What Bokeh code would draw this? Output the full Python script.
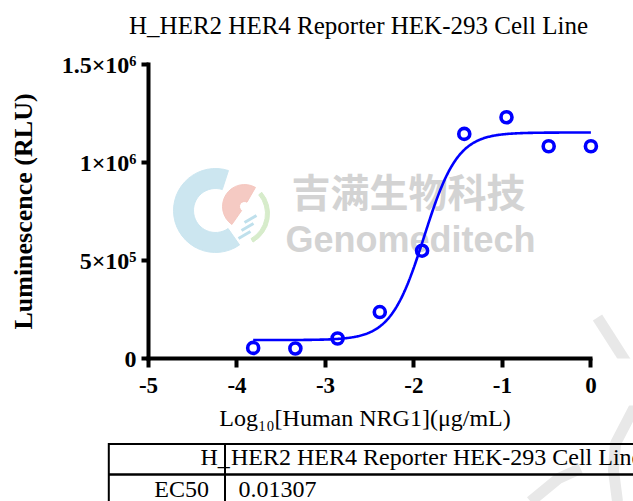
import numpy as np
from bokeh.plotting import figure
from bokeh.models import Range1d, FixedTicker
from bokeh.layouts import column
from bokeh.embed import file_html
from bokeh.resources import INLINE
from bokeh.core.properties import value

# ---------------- data ----------------
log_conc = [-3.817, -3.340, -2.863, -2.386, -1.908, -1.431, -0.954, -0.477, 0.0]
rlu = [54000, 51000, 102000, 237000, 550000, 1146000, 1231000, 1083000, 1083000]
fit_bottom = 94000
fit_top = 1153000
ec50 = 0.01307
hill = 2.3
x_ticks = [-5, -4, -3, -2, -1, 0]
x_tick_labels = ["-5", "-4", "-3", "-2", "-1", "0"]
y_ticks = [0, 500000, 1000000, 1500000]
y_tick_labels = ["0", "5×10⁵", "1×10⁶", "1.5×10⁶"]
title_text = "H_HER2 HER4 Reporter HEK-293 Cell Line"
x_label = "Log₁₀[Human NRG1](μg/mL)"
y_label = "Luminescence (RLU)"
table_header = ["H_", "HER2 HER4 Reporter HEK-293 Cell Line"]
table_row_label = "EC50"

# ---------------- layout ----------------
W = 633
HC, HA, HB = 45, 360, 96          # title strip, chart, label+table strip
BL, BR, BT, BB = 148, 0, 19, 47
PPX = 442.4 / 5.0                 # pixels per log unit
XR = (-5, -5 + (W - BL - BR) / PPX)
YR = (0, 1.5e6)
PX0 = BL


def dx(px):
    return XR[0] + (px - PX0) / PPX


FH = HA - BT - BB
PY0 = HC + BT + FH
ppy = FH / (YR[1] - YR[0])


def dy(py):
    return (PY0 - py) / ppy


SERIF = "Liberation Serif"
BLUE = "#0000ff"
WM = "#d3d3d3"
WM2 = "#e8e8e8"


def no_align(fig):
    if "frame_align" in fig.properties():
        fig.frame_align = False


def strip(height, top):
    f = figure(width=W, height=height, x_range=Range1d(0, W), y_range=Range1d(top + height, top),
               toolbar_location=None, output_backend="svg", min_border=0,
               x_axis_location=None, y_axis_location=None)
    f.outline_line_color = None
    f.grid.visible = False
    no_align(f)
    return f


# ---------------- title strip ----------------
c = strip(HC, 0)
c.text(x=[358], y=[24.5], text=[title_text], text_font=value(SERIF), text_font_size="25px",
       text_color="black", text_align="center", text_baseline="middle")

# ---------------- chart ----------------
p = figure(width=W, height=HA, x_range=Range1d(*XR), y_range=Range1d(*YR),
           toolbar_location=None, output_backend="svg",
           min_border_left=BL, min_border_right=BR, min_border_top=BT, min_border_bottom=BB)
p.outline_line_color = None
p.grid.visible = False
no_align(p)

# faint watermark stroke at right (decoration)
p.segment(x0=[dx(597)], y0=[dy(317)], x1=[dx(645)], y1=[dy(392)],
          line_color=WM2, line_width=11)

# watermark logo (decoration)
p.annular_wedge(x=[dx(215)], y=[dy(210)], inner_radius=22, outer_radius=42,
                inner_radius_units="screen", outer_radius_units="screen",
                start_angle=np.radians(72), end_angle=np.radians(305),
                direction="anticlock", color="#c9e5ef", alpha=0.95)
p.annular_wedge(x=[dx(244)], y=[dy(206)], inner_radius=5, outer_radius=22,
                inner_radius_units="screen", outer_radius_units="screen",
                start_angle=np.radians(60), end_angle=np.radians(235),
                direction="anticlock", color="#f4c4bc", alpha=0.9)
p.annular_wedge(x=[dx(236)], y=[dy(213)], inner_radius=29, outer_radius=33,
                inner_radius_units="screen", outer_radius_units="screen",
                start_angle=np.radians(-60), end_angle=np.radians(40),
                direction="anticlock", color="#d5ebc8", alpha=0.95)
p.segment(x0=[dx(244), dx(241), dx(238)], y0=[dy(222), dy(230), dy(238)],
          x1=[dx(256), dx(253), dx(250)], y1=[dy(215), dy(223), dy(231)],
          line_color="#bfe0ec", line_width=3)

# watermark text (decoration)
p.text(x=[dx(291)], y=[dy(189)], text=["吉满生物科技"], text_font=value("Noto Sans CJK SC"),
       text_font_style="bold", text_font_size="39px", text_color=WM,
       text_align="left", text_baseline="middle")
p.text(x=[dx(285)], y=[dy(239)], text=["Genomeditech"], text_font=value("Liberation Sans"),
       text_font_style="bold", text_font_size="36px", text_color=WM,
       text_align="left", text_baseline="middle")

# fitted 4PL curve from its parameters
xs = np.linspace(log_conc[0], log_conc[-1], 400)
ys = fit_bottom + (fit_top - fit_bottom) / (1 + 10 ** ((np.log10(ec50) - xs) * hill))
p.line(xs, ys, line_color=BLUE, line_width=2.6)

# data points
p.scatter(log_conc, rlu, marker="circle", size=11, fill_color=None,
          line_color=BLUE, line_width=3.6)

for ax in (p.xaxis, p.yaxis):
    ax.axis_line_width = 4
    ax.axis_line_cap = "square"
    ax.major_tick_line_width = 4
    ax.major_tick_in = 0
    ax.minor_tick_in = 0
    ax.minor_tick_out = 0
    ax.major_label_text_font = SERIF
    ax.major_label_text_font_style = "bold"
    ax.major_label_text_color = "black"
    ax.axis_line_color = "black"
    ax.major_tick_line_color = "black"

p.xaxis.ticker = FixedTicker(ticks=x_ticks)
p.xaxis.bounds = (x_ticks[0], x_ticks[-1])
p.xaxis.major_tick_out = 9
p.xaxis.major_label_standoff = 10
p.xaxis.major_label_text_font_size = "23px"
p.xaxis.major_label_overrides = {v: lab for v, lab in zip(x_ticks, x_tick_labels)}

p.yaxis.ticker = FixedTicker(ticks=y_ticks)
p.yaxis.bounds = (y_ticks[0], y_ticks[-1])
p.yaxis.major_tick_out = 7
p.yaxis.major_label_standoff = 5
p.yaxis.major_label_text_font_size = "24px"
p.yaxis.major_label_overrides = {v: lab for v, lab in zip(y_ticks, y_tick_labels)}
p.yaxis.axis_label = y_label
p.yaxis.axis_label_text_font = SERIF
p.yaxis.axis_label_text_font_style = "bold"
p.yaxis.axis_label_text_font_size = "26px"
p.yaxis.axis_label_text_color = "black"
p.yaxis.axis_label_standoff = 21

# ---------------- x label + table strip ----------------
top_b = HC + HA
t = strip(HB, top_b)
t.multi_line(xs=[[640, 615, 613, 617], [530, 558, 580]],
             ys=[[395, 443, 470, 501], [501, 478, 468]],
             line_color=WM2, line_width=11)
t.text(x=[364.5], y=[417.5], text=[x_label], text_font=value(SERIF), text_font_size="24px",
       text_color="black", text_align="center", text_baseline="middle")
t.segment(x0=[108, 108, 108.3, 224.5], y0=[443.5, 474, 442.5, 442.5],
          x1=[633, 633, 108.3, 224.5], y1=[443.5, 474, 501, 501],
          line_color="black", line_width=[2, 2.5, 2, 2])
t.text(x=[200, 230.5], y=[456.5, 456.5], text=table_header, text_font=value(SERIF),
       text_font_size="24px", text_color="black", text_align="left", text_baseline="middle")
t.text(x=[208.5], y=[488.5], text=[table_row_label], text_font=value(SERIF),
       text_font_size="24px", text_color="black", text_align="right", text_baseline="middle")
t.text(x=[238], y=[488.5], text=[f"{ec50}"], text_font=value(SERIF),
       text_font_size="24px", text_color="black", text_align="left", text_baseline="middle")

layout = column(c, p, t, spacing=0)
open("out.html", "w").write(file_html(layout, INLINE))
